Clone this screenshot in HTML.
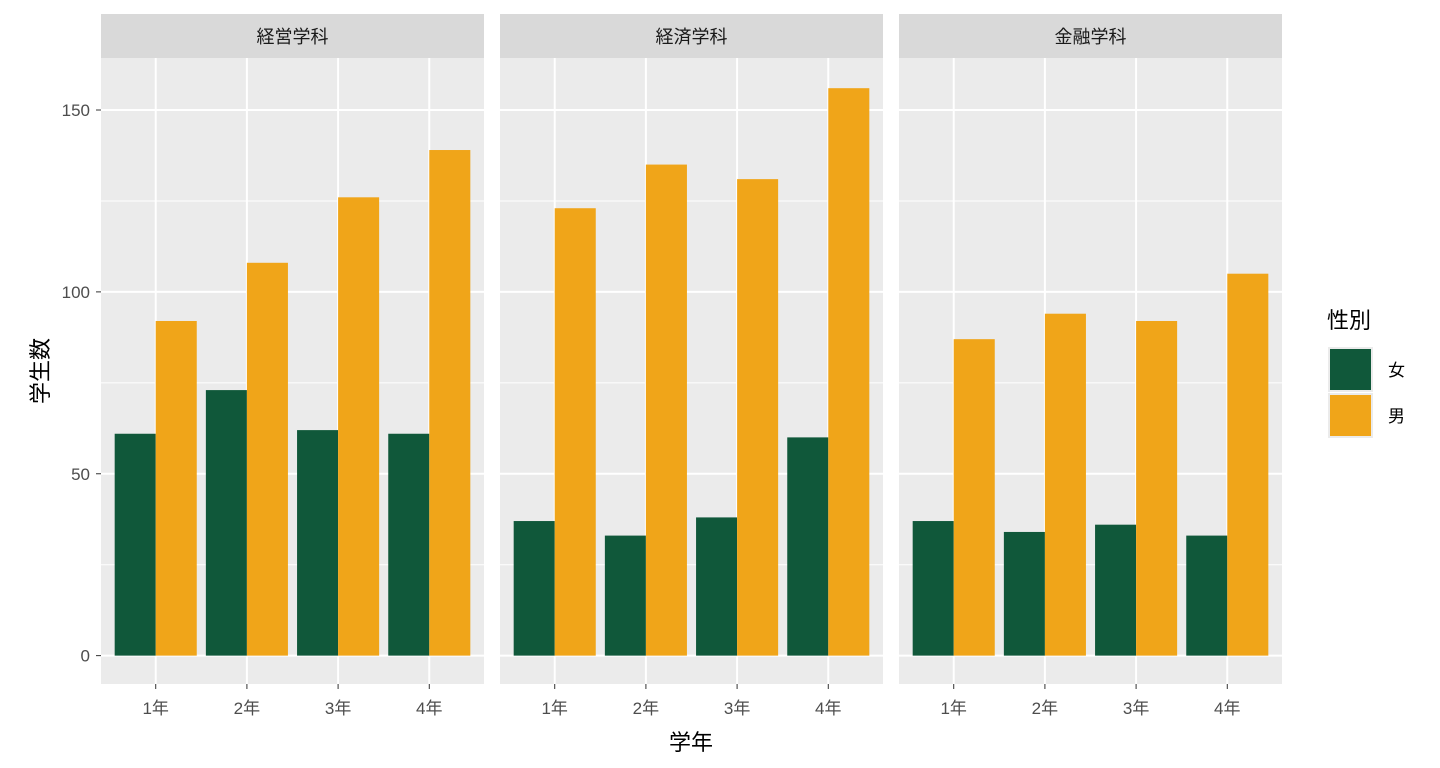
<!DOCTYPE html>
<html><head><meta charset="utf-8"><style>
html,body{margin:0;padding:0;background:#fff}
svg{display:block;font-family:"Liberation Sans","Noto Sans CJK JP",sans-serif}
</style></head><body>
<svg id="c" width="1440" height="768"></svg>
<script>
const facets = ["経営学科","経済学科","金融学科"];
const years = ["1年","2年","3年","4年"];
const femaleValues = [[61,73,62,61],[37,33,38,60],[37,34,36,33]];
const maleValues = [[92,108,126,139],[123,135,131,156],[87,94,92,105]];
const yTicks = [0,50,100,150];
const yMinor = [25,75,125];
const legendLabels = ["女","男"];
const colors = ["#10583a","#f0a519"];

const NS="http://www.w3.org/2000/svg";
const svg=document.getElementById('c');
function mk(tag,attrs,parent){const e=document.createElementNS(NS,tag);for(const k in attrs)e.setAttribute(k,attrs[k]);(parent||svg).appendChild(e);return e;}
const panelTop=58,panelBottom=684,panelW=383;
const panelX=[101,500,899];
const yMinV=-7.8,yMaxV=164.3;
function y(v){return panelBottom-(v-yMinV)/(yMaxV-yMinV)*(panelBottom-panelTop);}
function x(i,p){const u=panelW/4.2;return panelX[p]+(i+0.6)*u;}
const unit=panelW/4.2;

facets.forEach((f,p)=>{
  const g=mk('g',{});
  
  
  const strip=mk('rect',{x:panelX[p],y:14,width:panelW,height:44,fill:'#d9d9d9'},g);
  
  
  const st=mk('text',{x:panelX[p]+panelW/2,y:43,'text-anchor':'middle','font-size':18,fill:'#1a1a1a'},g);
  st.textContent=f;
  
  
  const bg=mk('rect',{x:panelX[p],y:panelTop,width:panelW,height:panelBottom-panelTop,fill:'#ebebeb'},g);
  
  
  yMinor.forEach(v=>{const l=mk('line',{x1:panelX[p],x2:panelX[p]+panelW,y1:y(v),y2:y(v),stroke:'#fff','stroke-width':1},g);
    
    });
  yTicks.forEach(v=>{const l=mk('line',{x1:panelX[p],x2:panelX[p]+panelW,y1:y(v),y2:y(v),stroke:'#fff','stroke-width':2},g);
    
    });
  years.forEach((yr,i)=>{
    const l=mk('line',{x1:x(i,p),x2:x(i,p),y1:panelTop,y2:panelBottom,stroke:'#fff','stroke-width':2},g);
    
    
    const bw=unit*0.45;
    const vals=[femaleValues[p][i],maleValues[p][i]];
    vals.forEach((v,s)=>{
      const r=mk('rect',{x:x(i,p)-bw+s*bw,y:y(v),width:bw,height:y(0)-y(v),fill:colors[s]},g);
      
      
    });
    const tk=mk('line',{x1:x(i,p),x2:x(i,p),y1:panelBottom,y2:panelBottom+5,stroke:'#333','stroke-width':1},g);
    
    
    const t=mk('text',{x:x(i,p),y:714,'text-anchor':'middle','font-size':17,fill:'#4d4d4d'},g);
    t.textContent=yr;
    
    
  });
});
yTicks.forEach(v=>{
  const tk=mk('line',{x1:96,x2:101,y1:y(v),y2:y(v),stroke:'#333','stroke-width':1});
  
  
  const t=mk('text',{x:90,y:y(v)+6,'text-anchor':'end','font-size':17,fill:'#4d4d4d'});
  t.textContent=v;
  
  
});
const xt=mk('text',{x:691,y:750,'text-anchor':'middle','font-size':22,fill:'#000'});
xt.textContent='学年';


const yt=mk('text',{x:0,y:0,'text-anchor':'middle','font-size':22,fill:'#000',transform:'translate(48,371) rotate(-90)'});
yt.textContent='学生数';


const lt=mk('text',{x:1327,y:328,'font-size':22,fill:'#000'});
lt.textContent='性別';


legendLabels.forEach((lab,s)=>{
  const k=mk('rect',{x:1328,y:347+s*46,width:45,height:45,fill:'#ebebeb'});
  
  
  const r=mk('rect',{x:1330,y:349+s*46,width:41,height:41,fill:colors[s]});
  
  
  const t=mk('text',{x:1388,y:376+s*46,'font-size':17,fill:'#000'});
  t.textContent=lab;
  
  
});
</script>
</body></html>
